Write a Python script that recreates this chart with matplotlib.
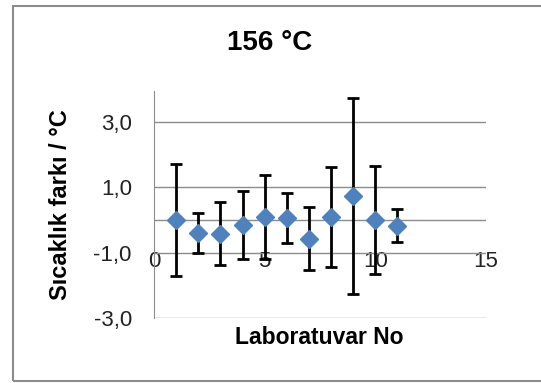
import matplotlib
matplotlib.use("Agg")
import matplotlib.pyplot as plt
from matplotlib.patches import Rectangle

plt.rcParams['font.family'] = ['Liberation Sans', 'DejaVu Sans']

# veriler
lab_no = [1, 2, 3, 4, 5, 6, 7, 8, 9, 10, 11]
fark = [0.0, -0.40, -0.42, -0.14, 0.10, 0.06, -0.57, 0.09, 0.75, 0.01, -0.17]
belirsizlik = [1.72, 0.60, 0.97, 1.04, 1.28, 0.77, 0.97, 1.52, 3.0, 1.65, 0.51]
y_ticks = [-3, -1, 1, 3]
y_tick_labels = ['-3,0', '-1,0', '1,0', '3,0']
x_ticks = [0, 5, 10, 15]

fig = plt.figure(figsize=(5.41, 3.83), dpi=100)
ax = fig.add_axes([0.2847, 0.1697, 0.6136, 0.5927])

ax.errorbar(lab_no, fark, yerr=belirsizlik, fmt='D', color='#4F81BD', ms=9.5,
            ecolor='black', elinewidth=2, capsize=4, capthick=2, zorder=3)

ax.set_xlim(0, 15)
ax.set_ylim(-3, 3.95)
ax.set_yticks(y_ticks)
ax.set_yticklabels(y_tick_labels)
ax.set_xticks(x_ticks)

ax.grid(True, axis='y', color='#8c8c8c', linewidth=1)
ax.axhline(0, color='#8c8c8c', linewidth=1, zorder=1)
ax.set_axisbelow(True)

# yatay eksen -1'de kesişiyor
ax.spines['bottom'].set_position(('data', -1))
ax.spines['bottom'].set_visible(False)
ax.spines['top'].set_visible(False)
ax.spines['right'].set_visible(False)
ax.spines['left'].set_color('#8c8c8c')
ax.tick_params(axis='y', length=0, pad=16, labelsize=16, labelcolor='#222222')
ax.tick_params(axis='x', length=0, pad=-1, labelsize=16, labelcolor='#222222')

fig.text(0.499, 0.888, '156 °C', ha='center', va='center', fontsize=20, fontweight='bold')
fig.text(0.111, 0.465, 'Sıcaklık farkı / °C', ha='center', va='center', rotation=90,
         fontsize=17, fontweight='bold')
fig.text(0.590, 0.120, 'Laboratuvar No', ha='center', va='center', fontsize=16.5, fontweight='bold')

fig.patches.append(Rectangle((0.024, 0.005), 1.0, 0.98, transform=fig.transFigure,
                             fill=False, ec='#8c8c8c', lw=1.5))

fig.savefig('out.png', dpi=100)
